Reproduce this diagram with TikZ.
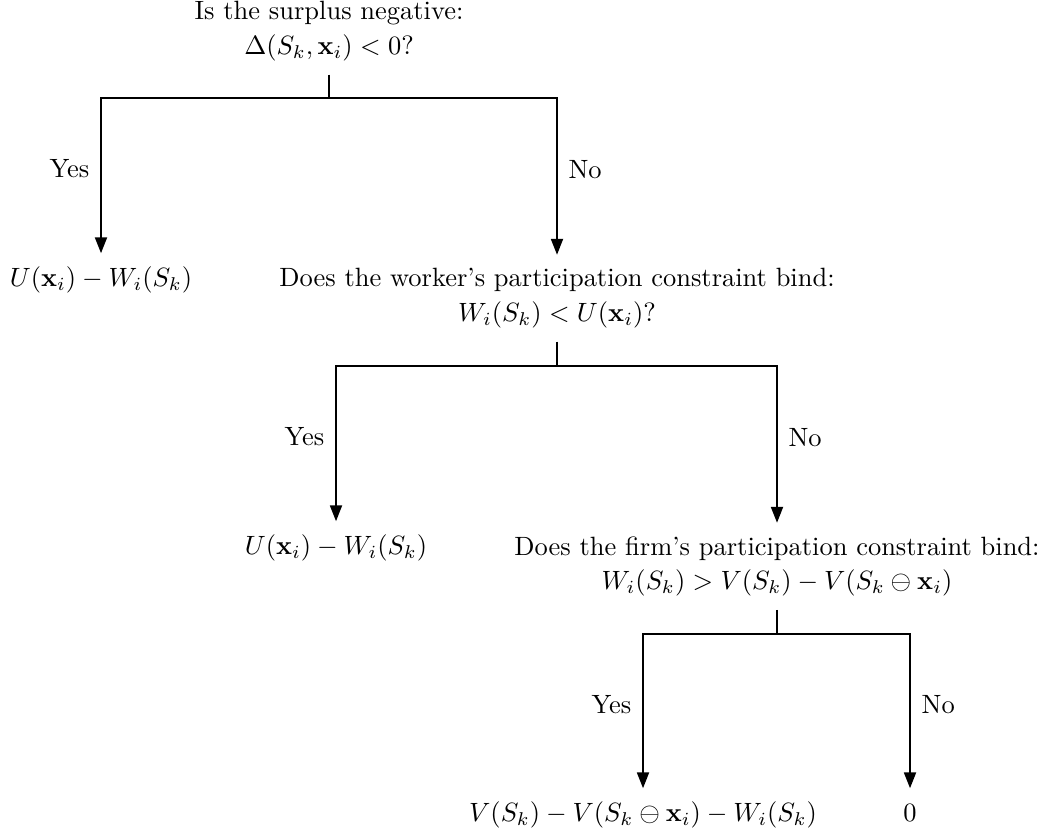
\documentclass[tikz,border=0pt]{standalone}
\usepackage{amsmath}
\usepackage{tikz}
\usetikzlibrary{arrows.meta,positioning}

\begin{document}
\begin{tikzpicture}[
    x=0.378pt, y=-0.378pt,
    question/.style={align=center, inner sep=0pt, anchor=north},
    outcome/.style={inner sep=0pt, anchor=north, text height=7.5pt, text depth=2.5pt},
    stem/.style={thick, shorten <=5pt},
    branch/.style={thick, -{Triangle[length=6pt, width=4.5pt]}, shorten >=5pt},
    answer/.style={inner sep=4pt}
]
\useasboundingbox (0,0) rectangle (1044,837);

\node[question] (surplus) at (329,1) {Is the surplus negative:\\[1pt] $\Delta(S_k,\mathbf{x}_i) < 0$?};
\coordinate (surplus-split) at (329,98);

\node[outcome] (surplus-yes) at (101,266.5) {$U(\mathbf{x}_i) - W_i(S_k)$};
\node[question] (worker) at (557,268) {Does the worker's participation constraint bind:\\[1pt] $W_i(S_k) < U(\mathbf{x}_i)$?};
\coordinate (worker-split) at (557,366);

\node[outcome] (worker-yes) at (336,534.5) {$U(\mathbf{x}_i) - W_i(S_k)$};
\node[question] (firm) at (777,536) {Does the firm's participation constraint bind:\\[1pt] $W_i(S_k) > V(S_k) - V(S_k \ominus \mathbf{x}_i)$};
\coordinate (firm-split) at (777,634);

\node[outcome] (firm-yes) at (643,801.5) {$V(S_k) - V(S_k \ominus \mathbf{x}_i) - W_i(S_k)$};
\node[outcome] (firm-no) at (910,801.5) {$0$};

\draw[stem] (surplus.south) -- (surplus-split);
\draw[branch] (surplus-split) -| node[answer, pos=0.71, left] {Yes} (surplus-yes.north);
\draw[branch] (surplus-split) -| node[answer, pos=0.71, right] {No} (worker.north);

\draw[stem] (worker.south) -- (worker-split);
\draw[branch] (worker-split) -| node[answer, pos=0.71, left] {Yes} (worker-yes.north);
\draw[branch] (worker-split) -| node[answer, pos=0.71, right] {No} (firm.north);

\draw[stem] (firm.south) -- (firm-split);
\draw[branch] (firm-split) -| node[answer, pos=0.71, left] {Yes} (firm-yes.north);
\draw[branch] (firm-split) -| node[answer, pos=0.71, right] {No} (firm-no.north);

\end{tikzpicture}
\end{document}
